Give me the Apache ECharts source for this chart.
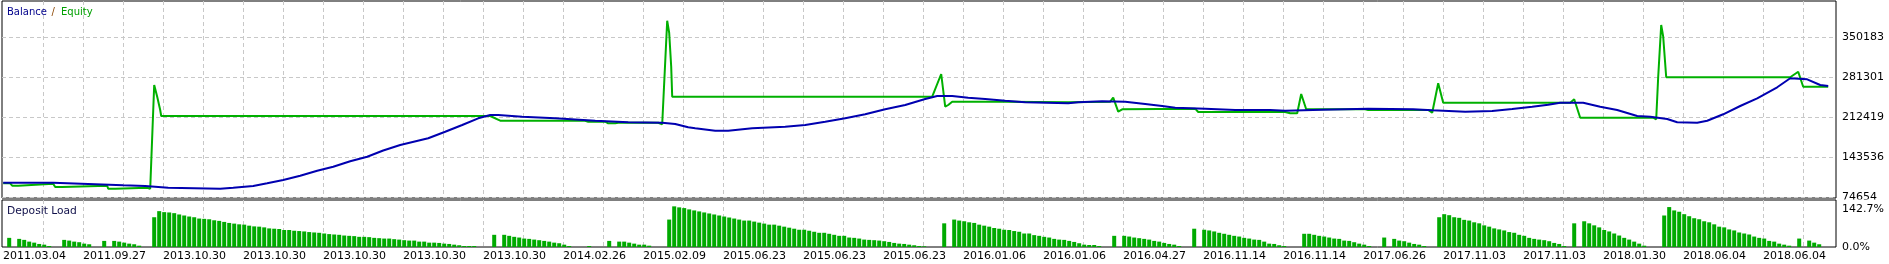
<!DOCTYPE html>
<html><head><meta charset="utf-8">
<script src="https://cdn.jsdelivr.net/npm/echarts@6/dist/echarts.min.js"></script>
<style>html,body{margin:0;padding:0;background:#fff}#c{width:1889px;height:264px}</style>
</head><body><div id="c"></div>
<script>
// ---- data ----
const xLabels = ['2011.03.04','2011.09.27','2013.10.30','2013.10.30','2013.10.30','2013.10.30','2013.10.30','2014.02.26','2015.02.09','2015.06.23','2015.06.23','2015.06.23','2016.01.06','2016.01.06','2016.04.27','2016.11.14','2016.11.14','2017.06.26','2017.11.03','2017.11.03','2018.01.30','2018.06.04','2018.06.04'];
const yTicks = [74654, 143536, 212419, 281301, 350183];
const loadTicks = [0, 142.7];

// [trade #, value]
const balance = [
[-1.2,99280],[8.8,99280],[9.2,97041],[15.8,97041],[16.2,94802],[22.8,94802],[23.2,93597],[27.2,93597],
[27.6,90669],[31.8,90669],[32.2,88947],[42.2,88947],[44.8,90669],[48.8,93597],[51.6,98246],[54.8,103929],
[58.2,111334],[61.6,119944],[64.8,126832],[68.2,136132],[71.6,144053],[74.8,154730],[78.2,164201],[83.8,175739],
[87.2,187105],[90.6,198642],[93.8,210180],[96.2,215863],[97.8,215863],[102.6,212935],[109.2,210180],[117.2,206047],
[123.8,203292],[130.6,202603],[133.2,200364],[135.8,194682],[137.2,192960],[141.2,188827],[143.8,188827],[148.6,192960],
[155.2,195715],[159.2,198642],[163.2,204325],[167.2,210180],[171.2,217068],[175.2,225679],[179.2,233084],[183.2,243416],
[185.6,248582],[188.6,248582],[191.8,245655],[195.2,243416],[199.2,240488],[203.2,237733],[211.8,236011],[213.8,237733],
[218.6,239455],[223.2,238766],[227.2,234806],[230.6,231362],[233.2,228434],[239.2,226712],[245.2,224473],[252.2,224473],
[255.2,223268],[262.6,224990],[271.8,226712],[280.8,225679],[284.6,223957],[291.2,221546],[296.6,222751],[300.6,226195],
[304.6,230156],[307.8,233600],[310.2,237044],[314.8,237044],[318.2,230156],[321.6,224473],[325.6,214141],[328.2,212935],
[331.6,208975],[333.6,203292],[337.6,202603],[339.6,206047],[342.8,217068],[346.2,231362],[349.6,244621],[353.6,263564],
[356.2,279063],[359.6,277341],[362.2,267525],[363.8,265803]
];
const equity = [
[-1.2,98246],[0.2,98246],[0.6,94113],[1.8,94113],[2.2,97557],[8.8,97557],[9.2,91875],[10.6,91875],[11.0,94113],
[19.6,94113],[19.8,88947],[21.2,88947],[21.4,90669],[27.6,90669],[28.2,88947],[28.4,88947],[29.0,267525],[29.6,247377],
[30.2,224473],[30.4,214141],[96.2,214141],[98.2,206047],[115.2,206047],[115.8,204325],[119.2,204325],[119.8,201570],
[121.2,201570],[121.8,202603],[129.8,202603],[130.2,199848],[130.6,199848],[131.6,378253],[132.0,357072],[132.4,299038],
[132.6,247377],[184.6,247377],[186.4,286467],[187.2,230156],[187.8,233084],[188.6,238766],[199.2,238766],[199.6,237733],
[211.8,237733],[212.2,238766],[220.2,238766],[220.8,245655],[221.8,221546],[222.6,225679],[223.0,226712],[237.2,226712],
[237.8,221029],[255.2,221029],[256.2,218790],[257.6,218790],[258.4,252026],[259.4,225679],[271.2,225679],[271.8,224473],
[283.8,224473],[284.6,219824],[285.8,270452],[286.8,237044],[312.2,237044],[313.0,242899],[314.2,211213],[328.8,211213],
[329.4,208458],[329.8,281818],[330.4,370848],[330.8,350700],[331.4,280785],[356.2,280785],[357.8,290428],[358.8,264597],
[363.8,264597]
];
const depositLoad = [
[0,32.1],[2,28.5],[3,25.0],[4,18.9],[5,15.3],[6,10.7],[7,8.2],[8,3.6],
[11,25.0],[12,22.5],[13,18.9],[14,16.8],[15,11.8],[16,9.6],
[19,21.4],[21,21.4],[22,18.9],[23,15.3],[24,11.8],[25,9.6],[26,4.6],
[29,104.5],[30,125.9],[31,122.4],[32,121.3],[33,118.8],[34,114.2],[35,110.6],[36,107.0],[37,104.5],[38,99.9],
[39,98.8],[40,97.4],[41,93.8],[42,91.7],[43,88.1],[44,84.5],[45,82.1],[46,79.6],[47,78.5],[48,74.9],
[49,72.4],[50,71.4],[51,68.9],[52,65.3],[53,64.2],[54,63.1],[55,59.6],[56,59.6],[57,57.1],[58,56.0],
[59,54.6],[60,52.4],[61,51.0],[62,49.9],[63,47.4],[64,45.3],[65,43.9],[66,42.8],[67,40.3],[68,39.2],
[69,38.2],[70,35.7],[71,35.7],[72,34.6],[73,32.1],[74,31.0],[75,29.6],[76,29.6],[77,27.5],[78,26.0],
[79,23.9],[80,22.5],[81,22.5],[82,18.9],[83,18.9],[84,15.3],[85,15.3],[86,14.3],[87,11.8],[88,10.7],[89,8.2],[90,6.1],[91,3.6],[92,3.6],[93,3.6],
[97,42.8],[99,42.8],[100,39.2],[101,35.7],[102,33.2],[103,29.6],[104,28.5],[105,26.0],[106,23.9],[107,21.4],[108,18.9],[109,15.3],[110,13.2],[111,8.2],[112,3.6],
[116,3.6],[120,21.4],[122,18.9],[123,18.9],[124,15.3],[125,11.8],[126,8.2],[127,8.2],[128,4.6],
[132,96.3],[133,142.7],[134,139.1],[135,136.6],[136,132.0],[137,128.4],[138,124.9],[139,121.3],[140,117.7],[141,114.2],[142,110.6],
[143,107.0],[144,103.5],[145,99.9],[146,96.3],[147,92.8],[148,92.8],[149,89.2],[150,85.6],[151,82.1],[152,78.5],[153,78.5],
[154,74.9],[155,71.4],[156,67.8],[157,64.2],[158,60.6],[159,60.6],[160,57.1],[161,53.5],[162,49.9],[163,49.9],[164,46.4],
[165,42.8],[166,39.2],[167,39.2],[168,33.2],[169,32.1],[170,29.6],[171,26.0],[172,25.0],[173,23.9],[174,22.5],[175,20.3],
[176,17.8],[177,14.3],[178,11.8],[179,10.7],[180,8.2],[181,6.1],[182,3.6],[183,2.5],
[187,83.1],[189,96.3],[190,92.8],[191,90.3],[192,86.7],[193,84.5],[194,78.5],[195,74.9],[196,71.4],[197,66.7],[198,64.2],
[199,60.6],[200,59.6],[201,56.0],[202,53.5],[203,47.4],[204,47.4],[205,41.7],[206,39.2],[207,35.7],[208,33.2],[209,28.5],
[210,26.0],[211,25.0],[212,21.4],[213,17.8],[214,13.2],[215,8.2],[216,7.1],[217,7.1],[218,3.6],
[221,39.2],[223,39.2],[224,36.7],[225,33.2],[226,31.0],[227,28.5],[228,26.0],[229,21.4],[230,18.9],[231,14.3],[232,10.7],[233,8.2],[234,3.6],
[237,64.2],[239,60.6],[240,58.1],[241,54.6],[242,49.9],[243,46.4],[244,42.8],[245,39.2],[246,36.7],[247,32.1],[248,29.6],
[249,26.0],[250,25.0],[251,18.9],[252,11.8],[253,10.7],[254,6.1],[255,3.6],
[259,46.4],[260,46.4],[261,42.8],[262,39.2],[263,36.7],[264,33.2],[265,29.6],[266,28.5],[267,22.5],[268,21.4],[269,16.8],[270,11.8],[271,8.2],[272,3.6],
[275,33.2],[277,28.5],[278,22.5],[279,20.3],[280,15.3],[281,10.7],[282,8.2],[283,3.6],
[286,104.5],[287,115.2],[288,111.7],[289,104.5],[290,102.4],[291,95.3],[292,92.8],[293,86.7],[294,83.1],[295,76.0],[296,71.4],
[297,65.3],[298,61.7],[299,58.1],[300,52.4],[301,49.9],[302,42.8],[303,39.2],[304,32.1],[305,28.5],[306,26.0],[307,23.9],
[308,20.3],[309,14.3],[310,10.7],[311,3.6],
[313,83.1],[315,90.3],[316,83.1],[317,76.0],[318,68.9],[319,59.6],[320,54.6],[321,47.4],[322,40.3],[323,32.1],[324,26.0],[325,18.9],[326,11.8],[327,4.6],
[331,110.6],[332,140.2],[333,128.4],[334,123.8],[335,115.2],[336,108.1],[337,101.0],[338,97.4],[339,90.3],[340,86.7],[341,79.6],
[342,71.4],[343,68.9],[344,61.7],[345,58.1],[346,51.0],[347,47.4],[348,43.9],[349,36.7],[350,32.1],[351,29.6],[352,21.4],
[353,18.9],[354,11.8],[355,8.2],[356,4.6],
[358,29.6],[360,22.5],[361,15.3],[362,9.6]
];

// ---- layout ----
const X_MIN = -1.44, X_MAX = 365.36;
const labelPos = xLabels.map((_, k) => +(-1.24 + 16 * k).toFixed(2));
const gridPos = [];
for (let k = 0; 6.76 + 8 * k < X_MAX; k++) gridPos.push(+(6.76 + 8 * k).toFixed(2));
const FONT = 'DejaVu Sans';
const dash = {color: '#c8c8c8', type: [4, 3], width: 1};

const chart = echarts.init(document.getElementById('c'), null, {renderer: 'canvas'});
chart.setOption({
  animation: false,
  grid: [
    {left: 2, top: 1, width: 1834, height: 197, show: true, borderColor: '#000', borderWidth: 1, backgroundColor: '#fff'},
    {left: 2, top: 200, width: 1834, height: 47, show: true, borderColor: '#000', borderWidth: 1, backgroundColor: '#fff'}
  ],
  xAxis: [
    {type: 'value', gridIndex: 0, min: X_MIN, max: X_MAX,
      axisLine: {show: false}, axisTick: {show: false, customValues: gridPos},
      axisLabel: {show: false}, splitLine: {show: true, lineStyle: dash}},
    {type: 'value', gridIndex: 1, min: X_MIN, max: X_MAX,
      axisLine: {show: false}, axisTick: {show: false, customValues: gridPos},
      axisLabel: {show: true, customValues: labelPos, align: 'left', margin: 4,
        color: '#000', fontFamily: FONT, fontSize: 11,
        formatter: v => xLabels[Math.round((v + 1.24) / 16)]},
      splitLine: {show: true, lineStyle: dash}}
  ],
  yAxis: [
    {type: 'value', gridIndex: 0, position: 'right', min: 72932, max: 412178,
      axisLine: {show: false}, axisTick: {show: false, customValues: yTicks},
      axisLabel: {customValues: yTicks, margin: 6, color: '#000', fontFamily: FONT, fontSize: 11,
        formatter: v => String(v)},
      splitLine: {show: true, lineStyle: dash}},
    {type: 'value', gridIndex: 1, position: 'right', min: 0, max: 165,
      axisLine: {show: false}, axisTick: {show: false, customValues: loadTicks},
      axisLabel: {customValues: loadTicks, margin: 6, color: '#000', fontFamily: FONT, fontSize: 11,
        formatter: v => v > 0 ? '{hi|' + v.toFixed(1) + '%}' : v.toFixed(1) + '%',
        rich: {hi: {color: '#000', fontFamily: FONT, fontSize: 11, padding: [5, 0, 0, 0]}}},
      splitLine: {show: false}}
  ],
  series: [
    {type: 'line', name: 'Equity', xAxisIndex: 0, yAxisIndex: 0, data: equity,
      symbol: 'none', showSymbol: false, lineStyle: {color: '#00b000', width: 2}, z: 2},
    {type: 'line', name: 'Balance', xAxisIndex: 0, yAxisIndex: 0, data: balance,
      symbol: 'none', showSymbol: false, lineStyle: {color: '#0000b0', width: 2}, z: 3},
    {type: 'bar', name: 'Deposit Load', xAxisIndex: 1, yAxisIndex: 1, data: depositLoad,
      barWidth: 4, itemStyle: {color: '#00aa00'}}
  ],
  graphic: [
    {type: 'rect', silent: true, z: 100, shape: {x: 1837, y: 199.5, width: 52, height: 3}, style: {fill: '#fff'}},
    {type: 'text', silent: true, z: 100, x: 7, y: 12,
      style: {text: 'Balance', fill: '#00008b', font: '10px "DejaVu Sans"', align: 'left', verticalAlign: 'middle'}},
    {type: 'text', silent: true, z: 100, x: 51.5, y: 12,
      style: {text: '/', fill: '#8b4500', font: '10px "DejaVu Sans"', align: 'left', verticalAlign: 'middle'}},
    {type: 'text', silent: true, z: 100, x: 61, y: 12,
      style: {text: 'Equity', fill: '#00a000', font: '10px "DejaVu Sans"', align: 'left', verticalAlign: 'middle'}},
    {type: 'text', silent: true, z: 100, x: 7, y: 211,
      style: {text: 'Deposit Load', fill: '#10104a', font: '10.7px "DejaVu Sans"', align: 'left', verticalAlign: 'middle'}}
  ]
});
</script>
</body></html>
